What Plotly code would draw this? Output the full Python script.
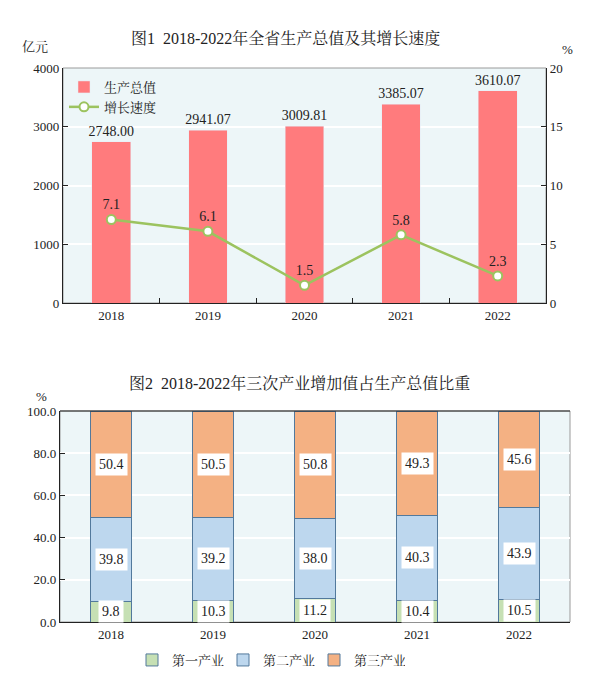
import plotly.graph_objects as go
from plotly.subplots import make_subplots

W, H = 593, 678
OFF = 8  # page body margin

# data
years = ["2018", "2019", "2020", "2021", "2022"]
gdp = [2748.00, 2941.07, 3009.81, 3385.07, 3610.07]
growth = [7.1, 6.1, 1.5, 5.8, 2.3]
primary = [9.8, 10.3, 11.2, 10.4, 10.5]
secondary = [39.8, 39.2, 38.0, 40.3, 43.9]
tertiary = [50.4, 50.5, 50.8, 49.3, 45.6]
sectors = ["第一产业", "第二产业", "第三产业"]

# palette
RED, GREEN_LINE = "#ff7b7d", "#9cc35f"
C1, C2, C3 = "#c6e0b4", "#bdd7ee", "#f4b183"
EDGE, BG = "#52799c", "#edf6f8"
FONT = "Liberation Serif, Noto Serif CJK SC, Noto Sans CJK SC, serif"


def px_x(x): return (x - OFF) / W
def px_y(y): return 1 - (y - OFF) / H


fig = make_subplots(rows=2, cols=1, specs=[[{"secondary_y": True}], [{}]])

# chart 1
fig.add_trace(go.Bar(x=years, y=gdp, name="生产总值", marker_color=RED, width=0.4,
                     text=[f"{v:.2f}" for v in gdp], textposition="outside",
                     constraintext="none", textfont=dict(size=14, color="#222"),
                     cliponaxis=False, legend="legend"), row=1, col=1, secondary_y=False)
fig.add_trace(go.Scatter(x=years, y=growth, name="增长速度", mode="lines+markers+text",
                         line=dict(color=GREEN_LINE, width=2.5),
                         marker=dict(size=9, color="white", line=dict(color=GREEN_LINE, width=2)),
                         text=[f"{v:.1f}" for v in growth], textposition="top center",
                         textfont=dict(size=14, color="#222"), legend="legend"),
              row=1, col=1, secondary_y=True)

# chart 2 stacked shares
for name, vals, col in zip(sectors, [primary, secondary, tertiary], [C1, C2, C3]):
    fig.add_trace(go.Bar(x=years, y=vals, name=name, width=0.4, legend="legend2",
                         marker=dict(color=col, line=dict(color=EDGE, width=1))),
                  row=2, col=1)

# white-box labels centred in each segment (x = category index)
ann = []
base = [0.0] * len(years)
for vals in [primary, secondary, tertiary]:
    for i, v in enumerate(vals):
        ann.append(dict(x=i, y=base[i] + v / 2, xref="x2", yref="y3", text=f"{v:.1f}",
                        showarrow=False, bgcolor="white", borderpad=3,
                        font=dict(size=14, color="#222")))
        base[i] += v

# titles and units
def label(x, y, text, size=13):
    return dict(x=px_x(x), y=px_y(y), xref="paper", yref="paper", showarrow=False,
                xanchor="center", yanchor="middle", text=text, font=dict(size=size, color="#222"))

ann += [
    label(285, 38, "图1  2018-2022年全省生产总值及其增长速度", 16),
    label(299, 383, "图2  2018-2022年三次产业增加值占生产总值比重", 16),
    label(35, 47, "亿元"),
    label(567, 50, "%"),
    label(41, 396, "%"),
]

shapes = [
    dict(type="rect", xref="x domain", yref="y domain", x0=0, x1=1, y0=0, y1=1,
         line=dict(color="#9a9a9a", width=1), layer="below"),
    dict(type="rect", xref="x2 domain", yref="y3 domain", x0=0, x1=1, y0=0, y1=1,
         line=dict(color="#9a9a9a", width=1), layer="below"),
    dict(type="line", xref="x2 domain", yref="y3 domain", x0=0, x1=1, y0=1, y1=1,
         line=dict(color="#222", width=1.2)),
]

axis_common = dict(showline=True, linecolor="#222", linewidth=1.2, automargin=False,
                   tickfont=dict(size=13, color="#222"), zeroline=False)

fig.update_layout(
    width=W, height=H, margin=dict(l=0, r=0, t=0, b=0),
    paper_bgcolor="white", plot_bgcolor=BG, barmode="stack",
    font=dict(family=FONT, size=13, color="#222"),
    legend=dict(x=px_x(64), y=px_y(72), xanchor="left", yanchor="top", traceorder="normal",
                bgcolor="rgba(0,0,0,0)", font=dict(size=13), tracegroupgap=2, itemwidth=30),
    legend2=dict(orientation="h", x=px_x(132), y=px_y(660), xanchor="left", yanchor="middle",
                 traceorder="normal", bgcolor="rgba(0,0,0,0)", font=dict(size=13),
                 itemwidth=30, entrywidth=46),
    annotations=ann, shapes=shapes,
)
fig.update_xaxes(axis_common, type="category", categoryorder="array", categoryarray=years,
                 showgrid=False, range=[-0.5, len(years) - 0.5])
fig.update_yaxes(axis_common, ticks="inside", ticklen=5, tickcolor="#222")
fig.update_layout(
    xaxis=dict(domain=[px_x(63), px_x(546)], ticks="inside", tickson="boundaries",
               ticklen=5, tickcolor="#222"),
    yaxis=dict(domain=[px_y(303), px_y(68)], range=[0, 4000], dtick=1000,
               gridcolor="white", gridwidth=1.5),
    yaxis2=dict(range=[0, 20], dtick=5, showgrid=False),
    xaxis2=dict(domain=[px_x(60), px_x(570)], ticks=""),
    yaxis3=dict(domain=[px_y(622), px_y(411)], range=[0, 100], dtick=20, tickformat=".1f",
                gridcolor="white", gridwidth=1.5),
)

fig.write_html("out.html")
